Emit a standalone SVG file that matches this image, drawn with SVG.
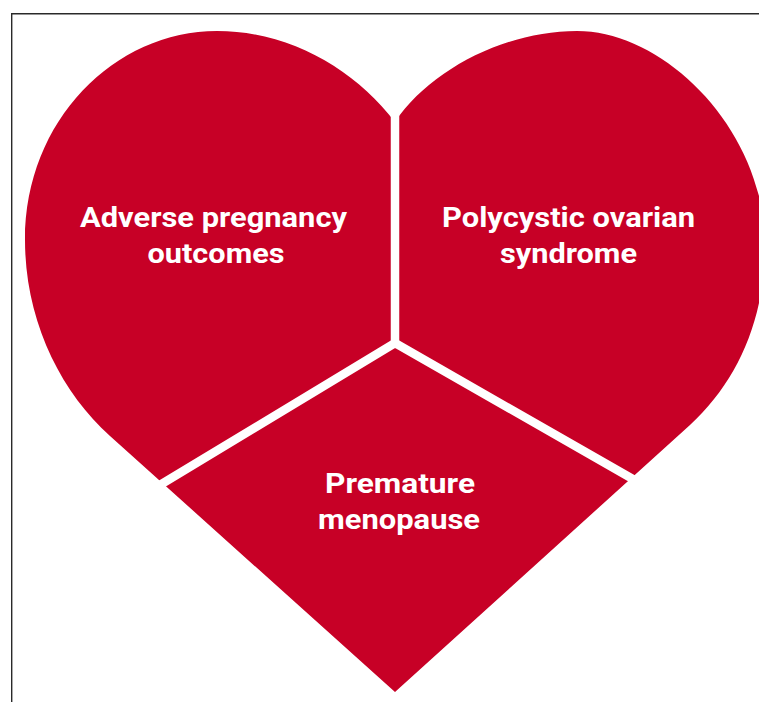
<svg xmlns="http://www.w3.org/2000/svg" width="759" height="702" viewBox="0 0 759 702">
  <style>
    .heart { fill: #C70026; }
    .divider { fill: none; stroke: #FFFFFF; stroke-width: 8.5; stroke-linejoin: miter; stroke-linecap: butt; }
    .label { fill: #FFFFFF; font-family: Roboto, "Liberation Sans", Arial, sans-serif; font-weight: 700; font-size: 28px; text-anchor: middle; }
    .frame { fill: none; stroke: #2a2a2a; stroke-width: 1.4; }
  </style>
  <rect width="759" height="702" fill="#FFFFFF"/>
  <path class="frame" d="M11.7,702 L11.7,13.8 L759,13.8"/>
  <g id="heart-shape">
    <path class="heart" d="M395,692 L110,436 C60,391 25,320 25,240 C25,120 115,31 217,31 C290,31 355,70 395,122 C430,70 505,31 577,31 C665,31 765,130 765,245 C765,320 737,382 690,425 Z"/>
  </g>
  <g id="connectors">
    <line class="divider" x1="395" y1="100" x2="395" y2="343"/>
    <polyline class="divider" points="150,491 395,343 645,486"/>
  </g>
  <g id="node-adverse">
    <text class="label" x="213.5" y="227" textLength="267" lengthAdjust="spacingAndGlyphs">Adverse pregnancy</text>
    <text class="label" x="216" y="263" textLength="137" lengthAdjust="spacingAndGlyphs">outcomes</text>
  </g>
  <g id="node-pcos">
    <text class="label" x="568.5" y="227" textLength="253" lengthAdjust="spacingAndGlyphs">Polycystic ovarian</text>
    <text class="label" x="568.5" y="263" textLength="137" lengthAdjust="spacingAndGlyphs">syndrome</text>
  </g>
  <g id="node-menopause">
    <text class="label" x="400" y="493" textLength="150" lengthAdjust="spacingAndGlyphs">Premature</text>
    <text class="label" x="399" y="529" textLength="162" lengthAdjust="spacingAndGlyphs">menopause</text>
  </g>
</svg>
